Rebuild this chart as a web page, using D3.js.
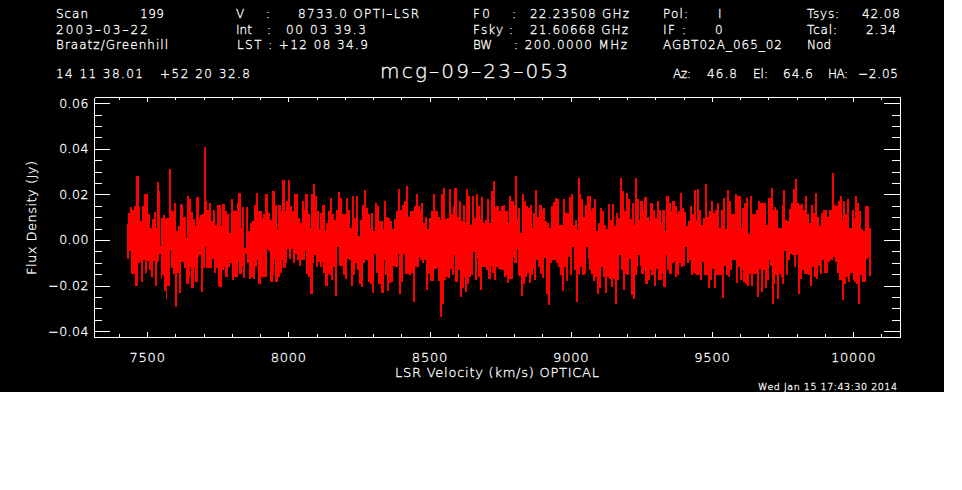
<!DOCTYPE html>
<html>
<head>
<meta charset="utf-8">
<script src="https://cdn.jsdelivr.net/npm/d3@7"></script>
<style>
  html, body { margin: 0; background: #fff; }
  svg { display: block; }
  text { font-family: "DejaVu Sans ExtraLight", "DejaVu Sans", sans-serif; font-weight: 200; fill: #fff; stroke: #fff; stroke-width: 0.3px; }
</style>
</head>
<body>
<div id="my_dataviz"></div>
<script>
// tick values (Jy on y, km/s on x)
var xTicks = [7500, 8000, 8500, 9000, 9500, 10000];
var xMinorTicks = [7400, 7600, 7700, 7800, 7900, 8100, 8200, 8300, 8400, 8600, 8700, 8800, 8900,
  9100, 9200, 9300, 9400, 9600, 9700, 9800, 9900, 10100];
var yTicks = [-0.04, -0.02, 0, 0.02, 0.04, 0.06];
var yMinorTicks = [-0.035, -0.03, -0.025, -0.015, -0.01, -0.005, 0.005, 0.01, 0.015, 0.025, 0.03, 0.035, 0.045, 0.05, 0.055];

// spectrum: velocity (km/s), then top and bottom of each spike (mJy)
var velocity = [
  7428,7435,7442,7449,7456,7464,7471,7478,7485,7492,
  7499,7506,7513,7520,7525,7532,7538,7541,7548,7552,
  7559,7565,7570,7578,7584,7591,7599,7605,7611,7617,
  7623,7630,7638,7645,7649,7655,7663,7669,7677,7683,
  7688,7695,7702,7708,7715,7722,7729,7736,7743,7749,
  7755,7762,7769,7776,7783,7790,7800,7807,7814,7821,
  7825,7833,7837,7843,7851,7858,
  7867,7874,7881,7888,7893,7900,7907,7914,7921,7928,
  7935,7942,7946,7953,7960,7967,7974,7981,7988,7995,
  8001,8007,8014,8021,8028,8036,8043,8049,8056,8063,
  8070,8077,8084,8089,8096,8103,8110,8116,8123,8130,
  8137,8143,8150,8157,8164,8171,8178,8185,8192,8199,
  8206,8214,8221,8228,8235,8242,8249,8256,8263,8270,
  8277,8282,8289,8296,8303,8310,8317,
  8323,8328,8335,8342,8349,8356,8363,8370,8378,8385,
  8391,8398,8405,8412,8420,8427,8434,8440,8447,8453,
  8460,8467,8473,8480,8486,8493,8500,8508,8515,8523,
  8530,8537,8543,8550,8557,8564,8571,8578,8585,8590,
  8598,8605,8612,8619,8626,8632,8639,8645,8652,8659,
  8665,8672,8678,8685,8692,8699,8706,8714,8719,8726,
  8732,8739,8747,
  8755,8762,8769,8774,8781,8784,8792,8799,8806,8812,
  8816,8822,8829,8836,8843,8850,8858,8865,8870,8876,
  8883,8891,8898,8905,8912,8919,8926,8933,8940,8947,
  8954,8961,8968,8975,8983,8990,8997,9004,9011,9018,
  9025,9029,9032,9039,9046,9053,9060,9065,9072,9079,
  9085,9092,9099,9106,9113,9120,9128,9135,9142,9149,
  9156,9163,9170,9177,9183,9190,9197,
  9204,9211,9218,9225,9231,9236,9243,9249,9256,9263,
  9270,9277,9284,9292,9299,9306,9313,9320,9327,9334,
  9341,9348,9355,9362,9369,9376,9383,9389,9396,9403,
  9411,9418,9424,9431,9439,9442,9450,9457,9464,9471,
  9478,9485,9492,9499,9506,9513,9520,9527,9534,9541,
  9549,9556,9563,9570,9577,9584,9591,9598,9605,9610,
  9616,9623,9630,9636,9643,
  9650,9657,9664,9671,9678,9685,9693,9700,9706,9711,
  9717,9723,9729,9736,9743,9749,9754,9761,9768,9774,
  9781,9789,9796,9803,9810,9818,9825,9832,9839,9846,
  9853,9860,9867,9874,9881,9888,9895,9902,9909,9917,
  9927,9934,9941,9948,9955,9963,9966,9973,9981,9988,
  9997,10004,10010,10016,10023,10030,10037,10044,10051,10058
];
var fluxTop = [
  6.6,11.6,14,13,14.6,28,14,8,14.6,20,
  19.7,11,5,9,12,5,25,21,-3,9.5,
  10.5,9,9.5,31,13,12.4,16,3.6,6,15.6,
  15,10,.7,19,17.8,12,9,6,18.5,9.5,
  10.5,11,40.6,16.7,13,16,8,13,6.5,15,
  15,6,15.6,12.4,11,3,17.5,12.4,12.4,16,
  20.4,5,14,-3.6,14,3.6,
  7.3,8,15,20.4,12.4,12.4,9.5,11,20,11.6,
  8.7,7.3,21,15,4.4,15,12.4,26,12.4,16.7,
  26,14.6,12.4,20,20,9.5,7.3,16.7,13,20,
  11,5,19.7,24.5,19,12.4,4.4,11.6,15,3.6,
  7.3,12.4,18,11,8.7,13,20.8,18,11,11,
  18,13,5,19,9.5,19,1.5,8.7,15,21.5,
  13.8,11,5,11.6,3.6,16,14.6,
  8,8,4.4,16.7,10,9.5,8,4.4,9,12.4,
  22,13,15,16.7,23.6,10,12.4,12.4,14.6,19.7,
  14.6,12.4,16,7.3,10,4.4,9.5,12.4,20,12.4,
  10,8.7,20,22.6,9,9.5,22,11,14.6,22.6,
  10,16.7,8,15,7.3,22,19,6.5,19,9.5,
  19.7,14.6,9,18.6,7.3,8.7,17.5,7.3,21,25.5,
  14,14.6,12.4,
  14.6,15,12.4,12.4,7.3,19,16.7,15,28,9,
  13.8,2.9,19.7,16.7,14.6,13.8,15,5,11.6,21.8,
  10,15,12.4,13.8,8,7.3,5,14.6,16.3,18,
  17.8,6.5,6.5,17.5,11.6,11.6,18.6,19.7,6.5,8.7,
  4.4,27,19.7,17.8,10,15,19,19,12.4,13.8,
  17.8,3.6,7.3,13.8,12.4,6.5,4.4,15.6,8.7,15.6,
  5.8,11.6,9.5,27,21,12.4,20.4,
  17.8,9,16,6.5,27,17.8,8.7,16.7,12.4,18.6,
  10,8,16,13,9.5,16.7,13,7.3,13,3.6,
  19,16,12.4,16.7,14.6,11,12.4,20.4,13.8,11.9,
  5.8,8,14.6,11,21.5,8.7,22,13,6.5,9.5,
  24.5,10,12.4,16.7,11.6,13,16,5,13,18,
  4.4,21.5,16.7,11,11,19.7,19,19,5,13.8,
  16,18,2.2,19,11,
  11,13,16.7,16,16,16,6.5,18,18,22.6,
  13,14,13,5,5,15,21.5,8.7,8,13.4,
  16,22,26.5,16,15,15.6,13,19,11,7.3,
  15,11.6,20.4,10,5.8,11.6,13,13,10,13,
  29,15,14.6,16.7,19,8.7,16.7,11,17.5,5,
  13,9.5,19,16,12.4,4.4,3.6,14.6,14.6,5
];
var fluxBottom = [
  -8,-4.4,-14.6,-14.6,-20,-10,-9.5,-18,-8.7,-14,
  -9,-13,-16,-9,-20,-10,-9,-6,-17,-15,
  -22,-25.5,-20,-4,-12,-14.6,-29,-14,-23,-9.5,
  -9.5,-12,-19,-16,-11.6,-21,-12,-18,-7,-6.5,
  -22.6,-12,-3,-12,-12,-12,-8,-14,-12,-20,
  -20.5,-13,-11.6,-16,-11.6,-10,-17.5,-16,-16,-9,
  -14.6,-11.6,-16.5,-6,-10,-17,
  -16,-17,-11.6,-8.7,-19,-16,-16,-16,-3.6,-4.4,
  -18,-15,-8.7,-18,-16,-14,-8.7,-12,-10,-3.6,
  -8,-3.6,-10,-6,-8.7,-11,-8.7,-8.7,-4.4,-14.6,
  -16,-23.6,-10,-6.5,-11.6,-9.5,-11.6,-9.5,-14,-19.7,
  -14.6,-15.3,-17.5,-11.6,-24.5,-2.9,-11,-11,-15.3,-17,
  -8,-8.7,-20,-15.3,-10,-13,-19,-20.4,-10,-8.7,
  -8.7,-18,-19,-23,-5.8,-14,-19,
  -19,-23,-8.7,-15.3,-22,-18.6,-18,-11,-11.4,-5.8,
  -23.6,-18,-5.8,-14.6,-14.6,-15.3,-14,-27,-11.6,-11.6,
  -7.3,-8.7,-10,-8.7,-21.8,-14.6,-17.8,-17.8,-12.4,-12,
  -17.8,-33.5,-28,-17.5,-16,-16.3,-12.4,-15.3,-6.5,-18,
  -13,-24.8,-21,-16,-22.6,-19,-16,-15.3,-5,-17.5,
  -8,-16,-21.8,-11.6,-11.6,-13,-16.7,-11,-14,-17.5,
  -11.6,-12.4,-13,
  -13,-16,-15.3,-18.6,-16.7,-16.7,-7.3,-10,-3.6,-15.3,
  -15.6,-24.5,-19,-16,-14,-18.6,-15.3,-12.4,-17.5,-8.7,
  -11.4,-14.6,-16.3,-7.7,-23.3,-28.4,-10,-8.7,-8.7,-10,
  -11.6,-15.3,-22,-11.6,-17.8,-7.3,-15.3,-2.9,-13,-27,
  -14.6,-15.3,-11.6,-15.3,-14.6,-2.9,-8,-13,-14.6,-17.8,
  -16,-23.3,-21,-11.6,-16,-23,-16,-16.7,-20.4,-16.7,
  -27.7,-17.5,-6.5,-13,-21.8,-14.6,-15.3,
  -8,-24,-25.5,-15.3,-11.6,-6.5,-11,-14.6,-13,-19,
  -17.5,-13,-15.3,-19.7,-12.4,-17.5,-17.5,-14,-20.4,-6.5,
  -13,-14.6,-10,-9.5,-16,-15.3,-10,-11.6,-11,-2.9,
  -10,-8.7,-15.3,-14,-14.6,-15.3,-15.3,-17.5,-9.5,-15.3,
  -15.3,-21,-17.5,-12.4,-21,-15.3,-15.3,-15.3,-25,-11,
  -15.3,-16,-13,-8.7,-8.7,-18.6,-11.6,-17.5,-13,-18,
  -19,-19.7,-14.6,-20,-14.6,
  -14.6,-24.8,-12.4,-22.6,-13,-21,-17.5,-8.7,-11,-27.7,
  -19,-15.3,-25.5,-14.6,-16,-19,-4.4,-15.3,-8.7,-5.8,
  -6.5,-11.4,-6.5,-23.6,-16.7,-13,-14.6,-14.6,-15.3,-19.7,
  -11.6,-16,-16.7,-11,-14.6,-8.7,-14,-14,-9.5,-8.7,
  -7.3,-9.5,-14,-17.5,-17.5,-26,-19,-16,-18,-14,
  -17.5,-18,-19,-28,-15.3,-18,-18,-8,-7.3,-16
];

var svg = d3.select("#my_dataviz")
  .append("svg")
    .attr("width", 962)
    .attr("height", 490);

// the plot device only covers the top left part of the page
svg.append("rect").attr("width", 944).attr("height", 392).attr("fill", "#000");

var left = 94, right = 900, top_ = 97, bottom = 337;

var x = d3.scaleLinear().domain([7312, 10166]).range([left, right]);
var y = d3.scaleLinear().domain([-0.04254, 0.0627]).range([bottom, top_]);

// every spike goes up to its top value, and halfway to the next one down to its bottom value
var points = [];
velocity.forEach(function(v, i) {
  var next = i < velocity.length - 1 ? velocity[i + 1] : v + 3;
  points.push({v: v, f: fluxTop[i] / 1000});
  points.push({v: (v + next) / 2, f: fluxBottom[i] / 1000});
});

var line = d3.line()
  .x(function(d) { return x(d.v); })
  .y(function(d) { return y(d.f); })
  .curve(d3.curveStepAfter);

svg.append("path")
  .datum(points)
  .attr("d", line)
  .attr("fill", "none")
  .attr("stroke", "#f00")
  .attr("stroke-width", 1.2)
  .attr("shape-rendering", "crispEdges");

// axes: one pair of generators for the long ticks, one for the short ticks
function drawAxis(axis, tx, ty, labelled) {
  var g = svg.append("g")
    .attr("transform", "translate(" + tx + "," + ty + ")")
    .attr("shape-rendering", "crispEdges")
    .call(axis);
  g.selectAll("path,line").attr("stroke", "#fff");
  if (!labelled) g.selectAll("text").remove();
  return g;
}

var xFormat = d3.format("d");
var yFormat = d3.format(".2f");

var xAxis = drawAxis(d3.axisBottom(x).tickValues(xTicks).tickSize(-5).tickSizeOuter(0).tickPadding(16).tickFormat(xFormat), 0, bottom, true);
drawAxis(d3.axisBottom(x).tickValues(xMinorTicks).tickSize(-3).tickSizeOuter(0), 0, bottom, false);
drawAxis(d3.axisTop(x).tickValues(xTicks).tickSize(-5).tickSizeOuter(0), 0, top_, false);
drawAxis(d3.axisTop(x).tickValues(xMinorTicks).tickSize(-3).tickSizeOuter(0), 0, top_, false);

var yAxis = drawAxis(d3.axisLeft(y).tickValues(yTicks).tickSize(-16).tickSizeOuter(0).tickPadding(5).tickFormat(yFormat), left, 0, true);
drawAxis(d3.axisLeft(y).tickValues(yMinorTicks).tickSize(-8).tickSizeOuter(0), left, 0, false);
drawAxis(d3.axisRight(y).tickValues(yTicks).tickSize(-16).tickSizeOuter(0), right, 0, false);
drawAxis(d3.axisRight(y).tickValues(yMinorTicks).tickSize(-8).tickSizeOuter(0), right, 0, false);

xAxis.selectAll("text").style("font-size", "13px").style("letter-spacing", "0.8px").attr("fill", "#fff").style("font-family", null);
yAxis.selectAll("text").style("font-size", "12.5px").style("letter-spacing", "0.5px").attr("fill", "#fff").style("font-family", null);

// header and axis titles, stretched to the width they have in the picture
function label(tx, ty, s, w, size) {
  var t = svg.append("text")
    .attr("x", tx)
    .attr("y", ty)
    .style("font-size", (size || 12) + "px")
    .text(s);
  if (w) t.attr("textLength", w).attr("lengthAdjust", "spacing");
  return t;
}

label(56, 18, "Scan", 32);
label(140, 18, "199", 24);
label(56, 33.5, "2003–03–22", 92);
label(56, 49, "Braatz/Greenhill", 112);

label(236, 18, "V");
label(266, 18, ":");
label(298, 18, "8733.0 OPTI–LSR", 121);
label(236, 33.5, "Int", 16);
label(267, 33.5, ":");
label(286, 33.5, "00 03 39.3", 80);
label(237, 49, "LST : +12 08 34.9", 131);

label(473, 18, "F0", 17);
label(512, 18, ":");
label(530, 18, "22.23508 GHz", 99);
label(473, 33.5, "Fsky :", 40);
label(530, 33.5, "21.60668 GHz", 98);
label(473, 49, "BW", 19);
label(514, 49, ": 200.0000 MHz", 113);

label(663, 18, "Pol:", 25);
label(718, 18, "I");
label(663, 33.5, "IF :", 23);
label(715, 33.5, "0");
label(663, 49, "AGBT02A_065_02", 119);

label(807, 18, "Tsys:", 32);
label(862, 18, "42.08", 38);
label(807, 33.5, "Tcal:", 30);
label(866, 33.5, "2.34", 30);
label(807, 49, "Nod", 24);

label(56, 77.5, "14 11 38.01", 87);
label(160, 77.5, "+52 20 32.8", 90);
label(380, 77.5, "mcg–09–23–053", 188, 20);

label(673, 77.5, "Az:", 18);
label(707, 77.5, "46.8", 30);
label(753, 77.5, "El:", 15);
label(783, 77.5, "64.6", 30);
label(828, 77.5, "HA:", 20);
label(858, 77.5, "−2.05", 40);

label(395, 376.5, "LSR Velocity (km/s) OPTICAL", 204, 13);
label(758, 390, "Wed Jan 15 17:43:30 2014", 139, 9.5);

svg.append("text")
  .attr("transform", "translate(36,218) rotate(-90)")
  .attr("text-anchor", "middle")
  .attr("textLength", 114)
  .attr("lengthAdjust", "spacing")
  .style("font-size", "13px")
  .text("Flux Density (Jy)");
</script>
</body>
</html>
